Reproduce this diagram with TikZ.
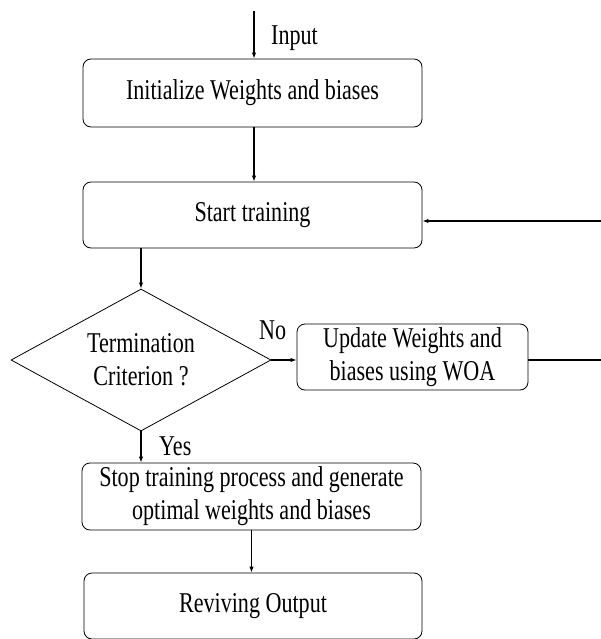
\documentclass[tikz,border=0pt]{standalone}
\usepackage{fontspec}
\setmainfont{Liberation Serif}[FakeStretch=0.77]
\usetikzlibrary{shapes.geometric,arrows.meta}
\begin{document}
\begin{tikzpicture}[x=1pt,y=-1pt,
  every node/.style={font=\fontsize{28.7}{33}\selectfont},
  procbox/.style={draw, line width=0.8pt, rounded corners=8pt, inner sep=0pt, align=center},
  decbox/.style={draw, diamond, line width=0.8pt, inner sep=0pt},
  lbl/.style={anchor=base west, inner sep=0pt},
  arr/.style={line width=1.2pt, -{Latex[length=6pt,width=4.5pt]}},
  plain/.style={line width=1.2pt}]
\useasboundingbox (0,0) rectangle (600,639);
\node[procbox, minimum width=339pt, minimum height=68pt] (box1) at (252.5,93) {Initialize Weights and biases};
\node[procbox, minimum width=339pt, minimum height=66pt] (box2) at (252.5,215) {Start training};
\node[decbox, minimum width=260pt, minimum height=142pt] (dec) at (141,360) {};
\node[align=center, inner sep=0pt] (dectext) at (dec.center) {Termination\\Criterion ?};
\node[procbox, minimum width=231pt, minimum height=66pt] (box3) at (412.5,357) {Update Weights and\\biases using WOA};
\node[procbox, minimum width=339pt, minimum height=67pt] (box4) at (251.5,496.5) {Stop training process and generate\\optimal weights and biases};
\node[procbox, minimum width=338pt, minimum height=66pt] (box5) at (253,606) {Reviving Output};
\coordinate (start) at (254,11);
\coordinate (fbr) at (603,360);
\coordinate (fbt) at (603,221);
\node[lbl] (inlbl) at (271,45) {Input};
\node[lbl] (nolbl) at (259,339) {No};
\node[lbl] (yeslbl) at (159,455) {Yes};
\draw[arr] (start) -- (start |- box1.north);
\draw[arr] (start |- box1.south) -- (start |- box2.north);
\draw[arr] (dec.north |- box2.south) -- (dec.north);
\draw[arr] (dec.east) -- (dec.east -| box3.west);
\draw[arr] (dec.south) -- (dec.south |- box4.north);
\draw[arr] (box4.south) -- (box4.south |- box5.north);
\draw[arr] (dec.east -| box3.east) -- (fbr) -- (fbt) -- (fbt -| box2.east);
\end{tikzpicture}
\end{document}
